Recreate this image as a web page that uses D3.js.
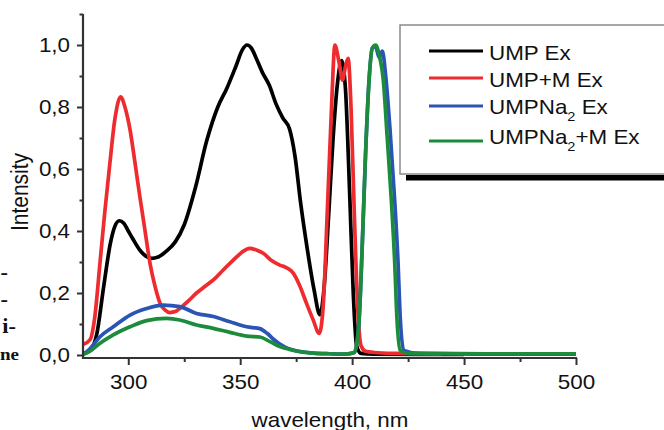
<!DOCTYPE html>
<html>
<head>
<meta charset="utf-8">
<script src="https://cdn.jsdelivr.net/npm/d3@7"></script>
<style>
  html, body { margin: 0; padding: 0; background: #fff; }
  svg { display: block; }
  text { font-family: "Liberation Sans", Arial, sans-serif; fill: #111; }
</style>
</head>
<body>
<svg id="chart" width="664" height="430"></svg>
<script>
// ---- data ----
const seriesNames = ["UMP Ex", "UMP+M Ex", "UMPNa2 Ex", "UMPNa2+M Ex"];

const umpWl  = [280, 283, 286, 289, 292, 294, 296, 298, 300, 302, 305, 308, 310.5, 313, 317, 321, 325, 330, 335, 340, 344, 348, 351, 353, 355, 357, 360, 363, 366, 369, 372, 374.5, 377, 380, 383, 385.6, 387.5, 389.5, 391.5, 393.5, 395.3, 397, 399, 400.5, 402, 404, 410, 430, 450];
const umpVal = [0.005, 0.015, 0.07, 0.22, 0.36, 0.415, 0.433, 0.425, 0.4, 0.375, 0.34, 0.318, 0.312, 0.315, 0.335, 0.365, 0.42, 0.54, 0.69, 0.8, 0.86, 0.93, 0.985, 1.0, 0.99, 0.96, 0.91, 0.87, 0.81, 0.765, 0.73, 0.64, 0.49, 0.34, 0.21, 0.13, 0.22, 0.45, 0.7, 0.88, 0.95, 0.86, 0.5, 0.2, 0.03, 0.005, 0.003, 0.002, 0.002];

const umpMWl  = [280, 283, 285, 287.4, 289.5, 291.8, 294, 296.6, 298.5, 300.8, 303, 305.2, 307.5, 309.7, 312, 314.2, 316.5, 318.6, 321, 323, 326.5, 330.5, 334, 338, 342.5, 346.9, 350.5, 354.3, 357.5, 360.3, 364, 367.7, 370.5, 373.7, 376.5, 379.6, 382.5, 385.3, 387, 389, 390.8, 392.3, 394, 395.7, 397, 398.2, 399.5, 401, 402.5, 404, 406, 410, 420, 440];
const umpMVal = [0.035, 0.05, 0.12, 0.3, 0.46, 0.62, 0.76, 0.833, 0.8, 0.726, 0.62, 0.51, 0.4, 0.296, 0.22, 0.167, 0.145, 0.137, 0.14, 0.15, 0.172, 0.2, 0.22, 0.242, 0.275, 0.306, 0.33, 0.344, 0.338, 0.328, 0.305, 0.29, 0.282, 0.264, 0.225, 0.167, 0.115, 0.07, 0.15, 0.48, 0.8, 1.0, 0.95, 0.887, 0.93, 0.957, 0.8, 0.45, 0.15, 0.03, 0.012, 0.008, 0.005, 0.003];

const naWl  = [280, 282.9, 287.4, 293.3, 300.8, 308.2, 315.6, 323, 330.5, 338, 345.4, 352.9, 358.8, 362, 365, 367.7, 371, 376, 382.5, 390, 397, 401, 403, 404.5, 406, 407.5, 409, 410.5, 412, 413.5, 415, 417, 419, 420.5, 421.5, 423, 430, 460, 500];
const naVal = [0.002, 0.02, 0.059, 0.091, 0.129, 0.15, 0.161, 0.156, 0.134, 0.124, 0.107, 0.091, 0.085, 0.07, 0.05, 0.035, 0.022, 0.012, 0.006, 0.004, 0.003, 0.008, 0.1, 0.35, 0.65, 0.88, 0.99, 0.995, 0.96, 0.98, 0.9, 0.72, 0.5, 0.3, 0.12, 0.015, 0.005, 0.003, 0.003];

const naMWl  = [280, 282.9, 287.4, 293.3, 300.8, 308.2, 317.1, 323, 330.5, 338, 345.4, 352.9, 358.8, 363.3, 367.7, 372, 376.6, 383, 390, 397, 401, 403, 404.5, 406, 407.5, 409, 410.5, 412, 414, 415.5, 417.5, 419, 420, 421.5, 425, 460, 500];
const naMVal = [0.002, 0.012, 0.038, 0.065, 0.091, 0.111, 0.118, 0.113, 0.097, 0.086, 0.073, 0.061, 0.058, 0.043, 0.027, 0.018, 0.011, 0.006, 0.004, 0.003, 0.008, 0.1, 0.35, 0.65, 0.88, 0.99, 1.0, 0.97, 0.88, 0.72, 0.5, 0.3, 0.12, 0.015, 0.005, 0.004, 0.004];

const xMajorTicks = [300, 350, 400, 450, 500];
const xMinorTicks = [325, 375, 425, 475];
const yMajorTicks = [0.0, 0.2, 0.4, 0.6, 0.8, 1.0];
const yMinorTicks = [0.1, 0.3, 0.5, 0.7, 0.9, 1.1];
const sideFragments = ["-", "-", "i-", "ne"];

// ---- drawing ----
const colors = ["#000000", "#ee2b2f", "#2a55b5", "#1c8c3c"];
const stretch = 1.12; // the reference's text is slightly wide
const svg = d3.select("#chart");

const x = d3.scaleLinear().domain([280, 500]).range([83.5, 576]);
const y = d3.scaleLinear().domain([0, 1.1]).range([355, 14]);
const axisY = 358;

// fragments of surrounding page text on the far left
svg.append("g").selectAll("text").data(sideFragments).join("text")
  .attr("transform", (d, i) => `translate(${i < 2 ? 8 : (i === 2 ? 16 : 19)},${279 + i * 27}) scale(${stretch},1)`)
  .attr("text-anchor", "end")
  .style("font-family", "'Liberation Serif', 'DejaVu Serif', serif")
  .style("font-weight", "bold")
  .style("font-size", (d, i) => i === 3 ? "17px" : "20px")
  .text(d => d);

// lines
const series = [
  { wl: umpWl, val: umpVal },
  { wl: umpMWl, val: umpMVal },
  { wl: naWl, val: naVal },
  { wl: naMWl, val: naMVal }
];
const line = d3.line().x(d => x(d[0])).y(d => y(d[1])).curve(d3.curveMonotoneX);
svg.append("g").selectAll("path").data(series).join("path")
  .attr("d", s => line(s.wl.map((w, i) => [w, s.val[i]])))
  .attr("fill", "none")
  .attr("stroke", (s, i) => colors[i])
  .attr("stroke-width", 3.7)
  .attr("stroke-linejoin", "round");

// axes
const axisColor = "#333";
const xAxis = svg.append("g").attr("transform", `translate(0,${axisY})`)
  .call(d3.axisBottom(x).tickValues(xMajorTicks).tickSize(7).tickPadding(10).tickSizeOuter(0));
xAxis.select(".domain").remove();
xAxis.selectAll(".tick line").attr("stroke", axisColor).attr("stroke-width", 2);
xAxis.selectAll(".tick text").style("font-size", "20px")
  .style("font-family", "'Liberation Sans', Arial, sans-serif").attr("fill", "#111")
  .attr("transform", `scale(${stretch},1)`);
const xMinor = svg.append("g").attr("transform", `translate(0,${axisY})`)
  .call(d3.axisBottom(x).tickValues(xMinorTicks).tickSize(4).tickFormat(""));
xMinor.select(".domain").remove();
xMinor.selectAll(".tick line").attr("stroke", axisColor).attr("stroke-width", 2);

const fmt = d3.format(".1f");
const yAxis = svg.append("g").attr("transform", "translate(83,0)")
  .call(d3.axisLeft(y).tickValues(yMajorTicks).tickSize(6).tickPadding(6).tickFormat(d => fmt(d).replace(".", ",")));
yAxis.select(".domain").remove();
yAxis.selectAll(".tick line").attr("stroke", axisColor).attr("stroke-width", 2);
yAxis.selectAll(".tick text").style("font-size", "20px")
  .style("font-family", "'Liberation Sans', Arial, sans-serif").attr("fill", "#111")
  .attr("x", -13 / stretch).attr("transform", `scale(${stretch},1)`);
const yMinor = svg.append("g").attr("transform", "translate(83,0)")
  .call(d3.axisLeft(y).tickValues(yMinorTicks).tickSize(3.5).tickFormat(""));
yMinor.select(".domain").remove();
yMinor.selectAll(".tick line").attr("stroke", axisColor).attr("stroke-width", 2);

svg.append("line").attr("x1", 83).attr("x2", 83).attr("y1", 14).attr("y2", axisY + 1)
  .attr("stroke", axisColor).attr("stroke-width", 2.2);
svg.append("line").attr("x1", 82).attr("x2", 577).attr("y1", axisY).attr("y2", axisY)
  .attr("stroke", axisColor).attr("stroke-width", 2.2);

// axis titles
svg.append("text").attr("transform", `translate(330,427) scale(${stretch},1)`).attr("text-anchor", "middle")
  .style("font-size", "20px").text("wavelength, nm");
svg.append("text").attr("transform", `translate(28,192) scale(${stretch},1) rotate(-90)`).attr("text-anchor", "middle")
  .style("font-size", "21px").text("Intensity");

// legend
const lg = svg.append("g");
lg.append("rect").attr("x", 406).attr("y", 175).attr("width", 300).attr("height", 5.5).attr("fill", "#000");
lg.append("rect").attr("x", 400).attr("y", 25).attr("width", 300).attr("height", 149)
  .attr("fill", "#fff").attr("stroke", "#8a8a8a").attr("stroke-width", 1.5);
const lineYs = [51, 78, 106, 141];
const baseYs = [60, 87, 114, 144];
seriesNames.forEach((name, i) => {
  lg.append("line").attr("x1", 429).attr("x2", 483).attr("y1", lineYs[i]).attr("y2", lineYs[i])
    .attr("stroke", colors[i]).attr("stroke-width", 3.2);
  const t = lg.append("text").attr("transform", `translate(489,${baseYs[i]}) scale(${stretch},1)`)
    .style("font-size", "20px");
  if (name.includes("Na2")) {
    const parts = name.split("Na2");
    t.append("tspan").text(parts[0] + "Na");
    t.append("tspan").attr("dy", 7).style("font-size", "13px").text("2");
    t.append("tspan").attr("dy", -7).text(parts[1]);
  } else {
    t.text(name);
  }
});
</script>
</body>
</html>
